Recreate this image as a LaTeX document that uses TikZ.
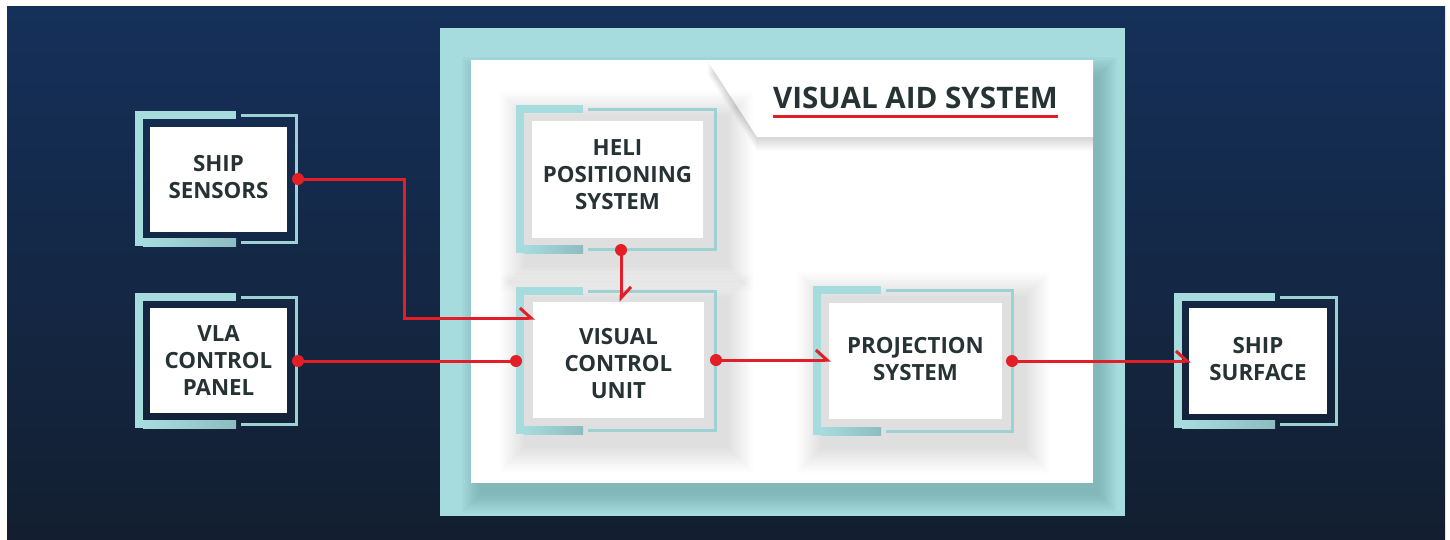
\documentclass[tikz,border=0pt]{standalone}
\usepackage{fontspec}
\setmainfont{Open Sans}
\usetikzlibrary{arrows.meta,calc}
\definecolor{bgtop}{HTML}{15305A}
\definecolor{bgbot}{HTML}{131F30}
\definecolor{teal1}{HTML}{A7DCDF}
\definecolor{teal2}{HTML}{9DD1D4}
\definecolor{teal3}{HTML}{8CBDC0}
\definecolor{tealdk}{HTML}{5E9496}
\definecolor{txt}{HTML}{263234}
\definecolor{redc}{HTML}{E41E26}
\newcommand\blkframe[5]{%
  \draw[thickfr] (#5,#2+4) -- (#1+4,#2+4) -- (#1+4,#4-4) -- (#5,#4-4);
  \shade[left color=teal1,right color=teal3] (#1+8,#4-8) rectangle (#5,#4);
  \draw[thinfr] (#5+5,#2+4) -- (#3-1.5,#2+4) -- (#3-1.5,#4-4) -- (#5+5,#4-4);}
\newcommand\softshadow[4]{%
  \foreach \i in {1,...,16}{\fill[black,opacity=0.008] (#1-\i*1.6+10,#2-\i*1.6+12) rectangle (#3+\i*1.6+10,#4+\i*1.6+12);}}
\begin{document}
\begin{tikzpicture}[x=1pt,y=-1pt,
  box/.style={fill=white, inner sep=0pt},
  boxtext/.style={inner sep=0pt, align=center, text=txt, font=\bfseries\fontsize{22.3}{27}\selectfont},
  thickfr/.style={draw=teal1, line width=8pt},
  thinfr/.style={draw=teal2, line width=3pt},
  conn/.style={draw=redc, line width=3pt},
  arr/.style={conn, -{Straight Barb[harpoon,length=11pt,width=20pt]}},
  dot/.style={circle, fill=redc, inner sep=0pt, minimum size=12pt},
]
\useasboundingbox (0,0) rectangle (1450,539);
\fill[white] (0,0) rectangle (1450,539);
\shade[top color=bgtop,bottom color=bgbot] (7,6) rectangle (1445,539);
% outer teal
\fill[teal1] (440,28) rectangle (1125,516);
\foreach \i in {1,...,13}{\fill[tealdk,opacity=0.045] (471-\i*1.5+10,60-\i*1.5+16) rectangle (1093+\i*1.5+4,483+\i*1.5+10);}
\fill[white] (471,60) rectangle (1093,483);
% title tab
\foreach \i in {1,...,14}{\fill[black,opacity=0.012] (707,60+\i) -- (1093,60+\i) -- (1093,137+\i) -- (757,137+\i) -- cycle;}
\fill[white] (707,60) -- (1093,60) -- (1093,137) -- (757,137) -- cycle;
\node[anchor=base, font=\bfseries\fontsize{29.6}{30}\selectfont, text=txt, inner sep=0pt] (title) at (915.5,108) {VISUAL AID SYSTEM};
\draw[redc, line width=3pt] ([yshift=-8.5pt]title.base west) -- ([yshift=-8.5pt]title.base east);
% inner block shadows
\softshadow{516}{105}{717}{253}
\softshadow{516}{287}{717}{434}
\softshadow{813}{286}{1014}{435}
% frames
\blkframe{135}{111}{298}{246}{236}
\blkframe{135}{293}{298}{428}{236}
\blkframe{516}{105}{717}{253}{583}
\blkframe{516}{287}{717}{434}{583}
\blkframe{813}{286}{1014}{435}{881}
\blkframe{1174}{293}{1338}{428}{1275}
% boxes
\node[box, minimum width=137pt, minimum height=105pt] (ss) at (218.5,179.5) {};
\node[box, minimum width=137pt, minimum height=105pt] (vla) at (218.5,360.5) {};
\node[box, minimum width=171pt, minimum height=117pt] (heli) at (617.5,179.5) {};
\node[box, minimum width=171pt, minimum height=116pt] (vcu) at (618.5,360) {};
\node[box, minimum width=173pt, minimum height=116pt] (proj) at (915.5,361) {};
\node[box, minimum width=138pt, minimum height=106pt] (surf) at (1258,361) {};
% texts
\node[boxtext] (ss-t) at ([yshift=2pt]ss.center) {SHIP\\SENSORS};
\node[boxtext] (vla-t) at (vla.center) {VLA\\CONTROL\\PANEL};
\node[boxtext] (heli-t) at ([yshift=5pt]heli.center) {HELI\\POSITIONING\\SYSTEM};
\node[boxtext] (vcu-t) at ([yshift=-4pt]vcu.center) {VISUAL\\CONTROL\\UNIT};
\node[boxtext] (proj-t) at ([yshift=2pt]proj.center) {PROJECTION\\SYSTEM};
\node[boxtext] (surf-t) at ([yshift=2pt]surf.center) {SHIP\\SURFACE};
% dots
\node[dot] (d1) at (298,179) {};
\node[dot] (d2a) at (298,361) {};
\node[dot] (d2b) at (516,361) {};
\node[dot] (d3) at (621,250) {};
\node[dot] (d4) at (716,360) {};
\node[dot] (d5) at (1012,361) {};
% connectors
\draw[arr] (d1.center) -- ++(106,0) |- ([xshift=2pt,yshift=42pt]vcu.west);
\draw[conn] (d2a.center) -- (d2b.center);
\draw[arr] (d3.center) -- (d3 |- vcu.north);
\draw[arr] (d4.center) -- ([xshift=2pt]d4 -| proj.west);
\draw[arr] (d5.center) -- ([xshift=2pt]d5 -| surf.west);
\end{tikzpicture}
\end{document}
